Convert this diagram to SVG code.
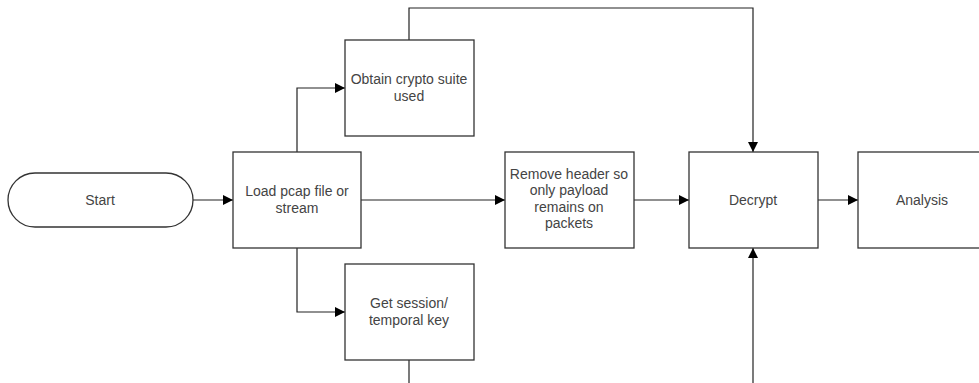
<svg xmlns="http://www.w3.org/2000/svg" width="979" height="383" viewBox="0 0 979 383">
  <defs>
    <marker id="arrow" viewBox="0 0 10 10" refX="10" refY="5" markerWidth="10" markerHeight="10" markerUnits="userSpaceOnUse" orient="auto">
      <path d="M0,0 L10,5 L0,10 Z" fill="#000"/>
    </marker>
    <style>
      .box { fill: #fff; stroke: #333; stroke-width: 1.3; }
      .lbl { font-family: "Liberation Sans", Arial, sans-serif; font-size: 14px; fill: #444; text-anchor: middle; }
      .wire { fill: none; stroke: #222; stroke-width: 1.2; }
    </style>
  </defs>
  <rect width="979" height="383" fill="#fff"/>

  <g id="connectors">
    <path class="wire" d="M193,200 H233" marker-end="url(#arrow)"/>
    <path class="wire" d="M297,152 V88 H345" marker-end="url(#arrow)"/>
    <path class="wire" d="M297,248 V312 H345" marker-end="url(#arrow)"/>
    <path class="wire" d="M361,200 H505" marker-end="url(#arrow)"/>
    <path class="wire" d="M634,200 H689" marker-end="url(#arrow)"/>
    <path class="wire" d="M818,200 H858" marker-end="url(#arrow)"/>
    <path class="wire" d="M409,40 V8 H753 V152" marker-end="url(#arrow)"/>
    <path class="wire" d="M409,360 V383"/>
    <path class="wire" d="M753,383 V248" marker-end="url(#arrow)"/>
  </g>

  <g id="start">
    <rect class="box" x="8" y="173" width="185" height="54" rx="27" ry="27"/>
    <text class="lbl" x="100" y="205">Start</text>
  </g>

  <g id="load">
    <rect class="box" x="233" y="152" width="128" height="96"/>
    <text class="lbl" x="297" y="196">Load pcap file or</text>
    <text class="lbl" x="297" y="212.5">stream</text>
  </g>

  <g id="suite">
    <rect class="box" x="345" y="40" width="129" height="96"/>
    <text class="lbl" x="409" y="84">Obtain crypto suite</text>
    <text class="lbl" x="409" y="100.5">used</text>
  </g>

  <g id="session">
    <rect class="box" x="345" y="264" width="129" height="96"/>
    <text class="lbl" x="409" y="308">Get session/</text>
    <text class="lbl" x="409" y="324.5">temporal key</text>
  </g>

  <g id="strip">
    <rect class="box" x="505" y="152" width="129" height="96"/>
    <text class="lbl" x="569" y="178.5">Remove header so</text>
    <text class="lbl" x="569" y="195">only payload</text>
    <text class="lbl" x="569" y="211.5">remains on</text>
    <text class="lbl" x="569" y="228">packets</text>
  </g>

  <g id="decrypt">
    <rect class="box" x="689" y="152" width="129" height="96"/>
    <text class="lbl" x="753" y="205">Decrypt</text>
  </g>

  <g id="analysis">
    <rect class="box" x="858" y="152" width="129" height="96"/>
    <text class="lbl" x="922" y="205">Analysis</text>
  </g>
</svg>
